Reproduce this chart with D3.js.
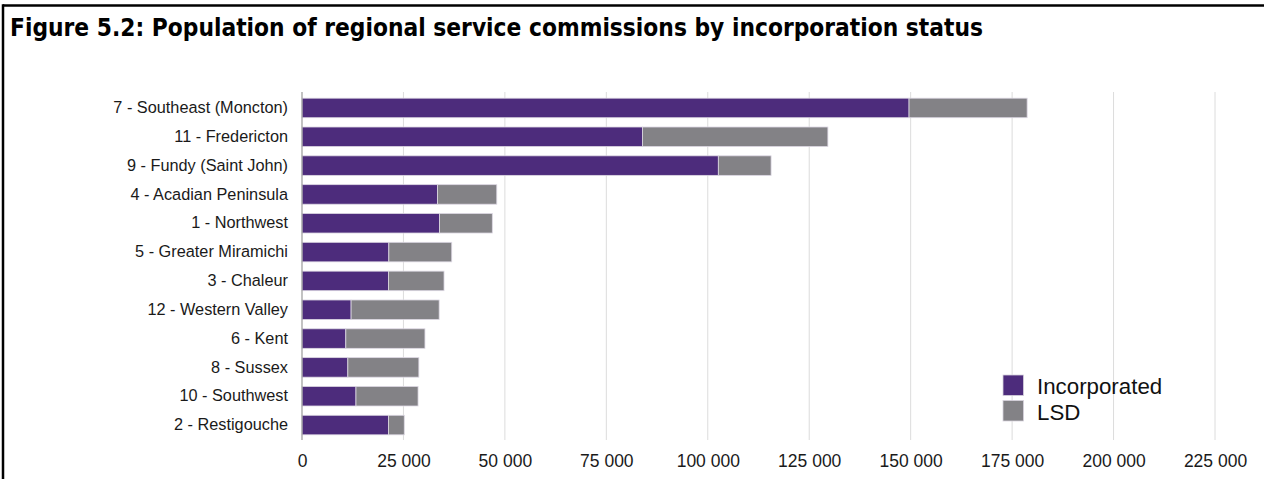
<!DOCTYPE html>
<html>
<head>
<meta charset="utf-8">
<script src="https://cdn.jsdelivr.net/npm/d3@7"></script>
<style>
  html, body { margin: 0; padding: 0; background: #fff; }
  svg { display: block; }
</style>
</head>
<body>
<svg id="chart" width="1264" height="479"></svg>
<script>
// Regional service commissions, ordered by total population
const categories = [
  "7 - Southeast (Moncton)",
  "11 - Fredericton",
  "9 - Fundy (Saint John)",
  "4 - Acadian Peninsula",
  "1 - Northwest",
  "5 - Greater Miramichi",
  "3 - Chaleur",
  "12 - Western Valley",
  "6 - Kent",
  "8 - Sussex",
  "10 - Southwest",
  "2 - Restigouche"
];
// Population living in incorporated municipalities
const incorporated = [149600, 83900, 102600, 33400, 33900, 21400, 21300, 12100, 10800, 11300, 13300, 21300];
// Population living in local service districts
const lsd = [29100, 45700, 13000, 14600, 13000, 15500, 13700, 21700, 19500, 17500, 15300, 3900];
const seriesNames = ["Incorporated", "LSD"];
const xTicks = [0, 25000, 50000, 75000, 100000, 125000, 150000, 175000, 200000, 225000];
const titleText = "Figure 5.2: Population of regional service commissions by incorporation status";

const colors = { Incorporated: "#4d2c7c", LSD: "#838286" };
const labelFont = "'Liberation Sans', Arial, Helvetica, sans-serif";

const svg = d3.select("#chart");

// frame rules on the top and left edges
svg.append("line").attr("x1", 3).attr("x2", 1264).attr("y1", 5.5).attr("y2", 5.5)
  .attr("stroke", "#000").attr("stroke-width", 2.5);
svg.append("line").attr("x1", 3).attr("x2", 3).attr("y1", 4.3).attr("y2", 479)
  .attr("stroke", "#000").attr("stroke-width", 2.5);

// title
svg.append("text")
  .attr("x", 10).attr("y", 36)
  .attr("textLength", 973).attr("lengthAdjust", "spacingAndGlyphs")
  .style("font-family", "'Liberation Sans Narrow', 'DejaVu Sans Condensed', 'Arial Narrow', sans-serif")
  .style("font-weight", "bold")
  .style("font-stretch", "condensed")
  .style("font-size", "24px")
  .attr("fill", "#000")
  .text(titleText);

const x = d3.scaleLinear().domain([0, 225000]).range([302, 1215]);
const y = d3.scaleBand().domain(categories).range([93, 440]).paddingInner(0.323).paddingOuter(0.18);

const fmt = d3.formatLocale({ decimal: ".", thousands: " ", grouping: [3], currency: ["", ""] }).format(",");

// vertical gridlines
svg.append("g").selectAll("line").data(xTicks.filter(d => d > 0)).join("line")
  .attr("x1", d => x(d)).attr("x2", d => x(d))
  .attr("y1", 92).attr("y2", 440)
  .attr("stroke", "#dcdcdc").attr("stroke-width", 1);

// x axis tick labels
const xAxis = d3.axisBottom(x).tickValues(xTicks).tickFormat(fmt).tickSize(0).tickPadding(0);
const gx = svg.append("g").attr("transform", "translate(0,455)").call(xAxis);
gx.select(".domain").remove();
gx.selectAll("text")
  .style("font-family", labelFont).style("font-size", "17.5px").attr("fill", "#1a1a1a")
  .attr("dy", "0.71em");

// stacked bars
const rows = categories.map((c, i) => ({ category: c, Incorporated: incorporated[i], LSD: lsd[i] }));
const stacked = d3.stack().keys(seriesNames)(rows);

svg.append("g").selectAll("g").data(stacked).join("g")
  .attr("fill", d => colors[d.key])
  .selectAll("rect").data(d => d).join("rect")
  .attr("x", d => x(d[0]))
  .attr("width", d => x(d[1]) - x(d[0]))
  .attr("y", d => y(d.data.category))
  .attr("height", y.bandwidth())
  .attr("stroke", "#dcd7e3").attr("stroke-width", 0.8);

// y axis line and category labels
svg.append("line").attr("x1", 302).attr("x2", 302).attr("y1", 92).attr("y2", 440)
  .attr("stroke", "#9a9a9a").attr("stroke-width", 1.2);
const yAxis = d3.axisLeft(y).tickSize(0).tickPadding(14);
const gy = svg.append("g").attr("transform", "translate(302,0)").call(yAxis);
gy.select(".domain").remove();
gy.selectAll("text")
  .style("font-family", labelFont).style("font-size", "16.3px").attr("fill", "#1a1a1a");

// legend
const legend = svg.append("g").attr("transform", "translate(1003,375)");
const li = legend.selectAll("g").data(seriesNames).join("g")
  .attr("transform", (d, i) => `translate(0,${i * 25.5})`);
li.append("rect").attr("width", 20.5).attr("height", 20.5)
  .attr("fill", d => colors[d]).attr("stroke", "#d6d2dc").attr("stroke-width", 0.8);
li.append("text").attr("x", 34).attr("y", 19)
  .style("font-family", labelFont).style("font-size", "22.3px").attr("fill", "#111")
  .text(d => d);
</script>
</body>
</html>
